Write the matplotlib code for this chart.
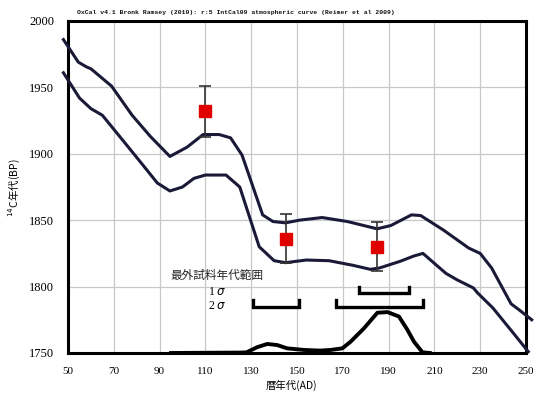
import matplotlib
matplotlib.use("Agg")
import matplotlib.pyplot as plt

# Calibration band (IntCal09), upper and lower 1-sigma envelopes
band_upper_x = [48, 54.5, 58, 60, 69, 78, 86, 94.5, 102, 109, 116, 121, 126, 135, 139.5,
                145, 151, 161, 172, 185, 191, 200, 204, 214, 225, 230, 235, 243.5, 247, 252.5]
band_upper_y = [1986, 1969, 1965.5, 1964, 1951, 1929, 1913, 1898, 1905, 1914.5, 1914.5, 1912,
                1899, 1854, 1849, 1848, 1850, 1852, 1849, 1843.5, 1846, 1854, 1853.5, 1842.5,
                1829, 1825, 1814, 1787, 1782.5, 1775]
band_lower_x = [48, 55, 60, 65, 74, 82, 89, 94.5, 100, 105, 110, 119, 125, 133.5, 140, 145,
                154, 164, 174.5, 182, 186, 195, 201, 205, 215, 220, 227, 229, 235.5, 244, 251]
band_lower_y = [1961, 1942, 1934, 1929, 1910, 1893, 1878, 1872, 1875, 1881.5, 1884, 1884,
                1875, 1830, 1819.5, 1818, 1820, 1819.5, 1816, 1813, 1814, 1819, 1823, 1825,
                1810, 1805, 1799, 1795, 1784, 1766, 1751]

# Measured 14C ages (BP) with 1-sigma errors
sample_age_ad = [110, 145, 185]
sample_c14 = [1932, 1836, 1830]
sample_err = [19, 18.5, 18.5]

# Calibrated probability distribution of the outermost sample (plotted on the BP scale)
prob_x = [95, 125, 128, 132.5, 137, 141.3, 145.7, 153, 160, 164.7, 169.8, 173.4, 179.2,
          185.1, 189.5, 194.5, 198.2, 201.1, 204.8, 208]
prob_y = [1750, 1750.3, 1750.5, 1754.3, 1756.8, 1756, 1753.5, 1752.3, 1751.8, 1752.3, 1753.5,
          1758.5, 1768.5, 1780.3, 1780.8, 1777.5, 1767.5, 1758.5, 1750.5, 1750]

# Calibrated ranges (AD)
range_1sigma = [(177, 199)]
range_2sigma = [(131, 151), (167, 205)]

x_ticks = [50, 70, 90, 110, 130, 150, 170, 190, 210, 230, 250]
y_ticks = [1750, 1800, 1850, 1900, 1950, 2000]

title_text = "OxCal v4.1 Bronk Ramsey (2010): r:5 IntCal09 atmospheric curve (Reimer et al 2009)"
jp = ["Noto Sans CJK JP", "DejaVu Sans"]
serif = ["Liberation Serif", "DejaVu Serif"]

fig = plt.figure(figsize=(5.36, 3.96), dpi=100)
ax = fig.add_axes([0.1269, 0.1086, 0.8544, 0.8384])
ax.set_xlim(50, 250)
ax.set_ylim(1750, 2000)

ax.set_xticks(x_ticks)
ax.set_yticks(y_ticks)
ax.grid(True, color="#c8c8c8", linewidth=0.9)
ax.set_axisbelow(True)
ax.tick_params(length=0)
ax.tick_params(axis="y", pad=10)
ax.tick_params(axis="x", pad=10)
for lab in ax.get_xticklabels():
    lab.set_fontfamily(serif)
    lab.set_fontsize(8)
for lab in ax.get_yticklabels():
    lab.set_fontfamily(serif)
    lab.set_fontsize(9)
for s in ax.spines.values():
    s.set_linewidth(2.2)
    s.set_color("black")

line_col = "#1a1a38"
ax.plot(band_upper_x, band_upper_y, color=line_col, lw=2.2, clip_on=False, zorder=3)
ax.plot(band_lower_x, band_lower_y, color=line_col, lw=2.2, clip_on=False, zorder=3)

ax.errorbar(sample_age_ad, sample_c14, yerr=sample_err, fmt="none", ecolor="#333333",
            elinewidth=1.2, capsize=4, capthick=1.2, zorder=4)
ax.plot(sample_age_ad, sample_c14, linestyle="none", marker="s", markersize=8,
        color="#e00000", zorder=5)

ax.plot(prob_x, prob_y, color="black", lw=2.8, zorder=3, clip_on=False)

# Range brackets
def bracket(x0, x1, ybase, h):
    ax.plot([x0, x0, x1, x1], [ybase + h, ybase, ybase, ybase + h], color="black",
            lw=2.4, solid_joinstyle="miter", zorder=4)

for a, b in range_1sigma:
    bracket(a, b, 1795, 5)
for a, b in range_2sigma:
    bracket(a, b, 1785, 5)

ax.text(94.9, 1808.7, "最外試料年代範囲", fontfamily=jp, fontsize=8.4, va="center", ha="left",
        color="#222222")
ax.text(115, 1796.2, "1 $\\it{σ}$", fontfamily=serif, fontsize=8.5, va="center", ha="center")
ax.text(115, 1785.4, "2 $\\it{σ}$", fontfamily=serif, fontsize=8.5, va="center", ha="center")

fig.text(77 / 536, 1 - 12.5 / 396, title_text, fontfamily="Liberation Mono", fontsize=4.6,
         va="center", ha="left", color="#111111", fontweight="bold")
fig.text(14 / 536, 1 - 188 / 396, "$^{14}$C年代(BP)", fontfamily=jp, fontsize=7.5,
         rotation=90, va="center", ha="center")
fig.text(291 / 536, 1 - 385 / 396, "暦年代(AD)", fontfamily=jp, fontsize=7.5,
         va="center", ha="center")

fig.savefig("out.png", dpi=100)
